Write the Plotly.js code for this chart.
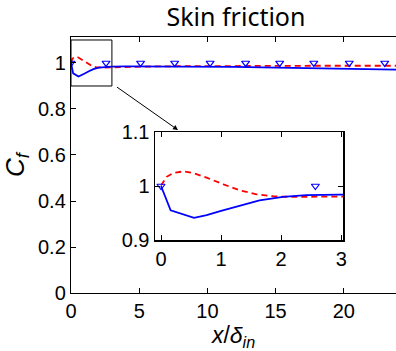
<!DOCTYPE html>
<html>
<head>
<meta charset="utf-8">
<script src="https://cdn.plot.ly/plotly-3.0.1.min.js"></script>
<style>html,body{margin:0;padding:0;background:#fff;}#chart{width:396px;height:351px;}</style>
</head>
<body>
<div id="chart"></div>
<script>
// Solid blue curve
const blueX = [0, 0.16, 0.55, 0.76, 1.0, 1.31, 1.64, 2.03, 2.42, 2.97, 4, 6, 8, 10, 12, 14, 16, 18, 20, 22, 24];
const blueY = [1.0, 0.955, 0.941, 0.946, 0.954, 0.964, 0.9735, 0.98, 0.983, 0.984, 0.985, 0.985, 0.985, 0.984, 0.983, 0.981, 0.979, 0.977, 0.975, 0.973, 0.971];
// Dashed red curve
const redX = [0, 0.094, 0.2, 0.37, 0.54, 0.76, 1.04, 1.31, 1.59, 1.87, 2.14, 2.5, 2.97, 4, 6, 8, 10, 12, 14, 16, 18, 20, 22, 24];
const redY = [1.001, 1.017, 1.024, 1.027, 1.024, 1.0155, 1.003, 0.992, 0.9846, 0.981, 0.98, 0.98, 0.981, 0.983, 0.985, 0.986, 0.987, 0.987, 0.987, 0.988, 0.988, 0.988, 0.988, 0.988];
// Triangle markers
const triX = [0, 2.57, 5.1, 7.6, 10.2, 12.8, 15.3, 17.8, 20.4, 23.0];
const triY = [1.0, 1.0, 1.0, 1.0, 1.0, 1.0, 1.0, 1.0, 1.0, 1.0];
// Ticks
const mainXTicks = [0, 5, 10, 15, 20];
const mainYTicks = [0, 0.2, 0.4, 0.6, 0.8, 1];
const mainYTickText = ["0", "0.2", "0.4", "0.6", "0.8", "1"];
const insetXTicks = [0, 1, 2, 3];
const insetYTicks = [0.9, 1, 1.1];
const insetYTickText = ["0.9", "1", "1.1"];

const blueLine = {color: '#0000ff', width: 1.8};
const redLine = {color: '#ff0000', width: 1.8, dash: '6px,4px'};
const triMarker = {symbol: 'triangle-down-open', size: 7, color: '#0000ff', line: {width: 1.2, color: '#0000ff'}};

const traces = [];
for (const ax of [['x', 'y'], ['x2', 'y2']]) {
  traces.push({x: redX, y: redY, xaxis: ax[0], yaxis: ax[1], mode: 'lines', line: redLine, hoverinfo: 'skip', showlegend: false});
  traces.push({x: blueX, y: blueY, xaxis: ax[0], yaxis: ax[1], mode: 'lines', line: blueLine, hoverinfo: 'skip', showlegend: false});
  traces.push({x: triX, y: triY, xaxis: ax[0], yaxis: ax[1], mode: 'markers', marker: triMarker, hoverinfo: 'skip', showlegend: false, cliponaxis: true});
}

const tickFont = {family: 'Liberation Sans, Arial, sans-serif', size: 20, color: '#000'};
const W = 396, H = 351, L = 71, T = 37, B = 58;
const pw = W - L, ph = H - T - B;
const px = v => (v - L) / pw;
const py = v => (H - B - v) / ph;

const layout = {
  width: W, height: H,
  margin: {l: L, r: 0, t: T, b: B},
  paper_bgcolor: '#fff', plot_bgcolor: 'rgba(0,0,0,0)',
  showlegend: false,
  title: {text: 'Skin friction', font: {family: 'Noto Sans, sans-serif', size: 25, color: '#000'},
          x: px(236), xanchor: 'center', xref: 'paper', y: 1 - 17 / H, yanchor: 'middle', yref: 'container'},
  xaxis: {
    domain: [0, 1], range: [0, (W - L) / 13.64],
    tickvals: mainXTicks, ticktext: mainXTicks.map(String),
    ticks: 'inside', ticklen: 5, tickcolor: '#000', tickwidth: 1,
    showline: true, linecolor: '#000', linewidth: 1.2, mirror: 'ticks',
    showgrid: false, zeroline: false, tickfont: tickFont,
    title: {text: '<i>x</i>/<i>δ</i><sub><i>in</i></sub>', font: {family: 'Liberation Sans, Arial, sans-serif', size: 23, color: '#000'}, standoff: 4}
  },
  yaxis: {
    domain: [0, 1], range: [0, 1.113],
    tickvals: mainYTicks, ticktext: mainYTickText,
    ticks: 'inside', ticklen: 5, tickcolor: '#000', tickwidth: 1,
    showline: true, linecolor: '#000', linewidth: 1.2, mirror: false,
    showgrid: false, zeroline: false, tickfont: tickFont,
    title: {text: '<i>C</i><sub><i>f</i></sub>', font: {family: 'Liberation Sans, Arial, sans-serif', size: 26, color: '#000'}, standoff: 8}
  },
  xaxis2: {
    domain: [px(155), px(343)], range: [-0.1, 3.03], anchor: 'y2',
    tickvals: insetXTicks, ticktext: insetXTicks.map(String),
    ticks: 'inside', ticklen: 5, tickcolor: '#000', tickwidth: 1,
    showline: true, linecolor: '#000', linewidth: 1.5, mirror: 'ticks',
    showgrid: false, zeroline: false, tickfont: tickFont
  },
  yaxis2: {
    domain: [py(240), py(132)], range: [0.9, 1.1], anchor: 'x2',
    tickvals: insetYTicks, ticktext: insetYTickText,
    ticks: 'inside', ticklen: 5, tickcolor: '#000', tickwidth: 1,
    showline: true, linecolor: '#000', linewidth: 1.5, mirror: 'ticks',
    showgrid: false, zeroline: false, tickfont: tickFont
  },
  shapes: [
    {type: 'rect', xref: 'x', yref: 'y', x0: 0, x1: 3, y0: 0.9, y1: 1.1, line: {color: '#000', width: 1}, fillcolor: 'rgba(0,0,0,0)'}
  ],
  annotations: [
    {xref: 'paper', yref: 'paper', x: px(178), y: py(130), ax: -64, ay: -45, axref: 'pixel', ayref: 'pixel',
     showarrow: true, arrowhead: 2, arrowsize: 1, arrowwidth: 1, arrowcolor: '#000', text: ' '}
  ]
};

Plotly.newPlot('chart', traces, layout, {displayModeBar: false, staticPlot: true});
</script>
</body>
</html>
